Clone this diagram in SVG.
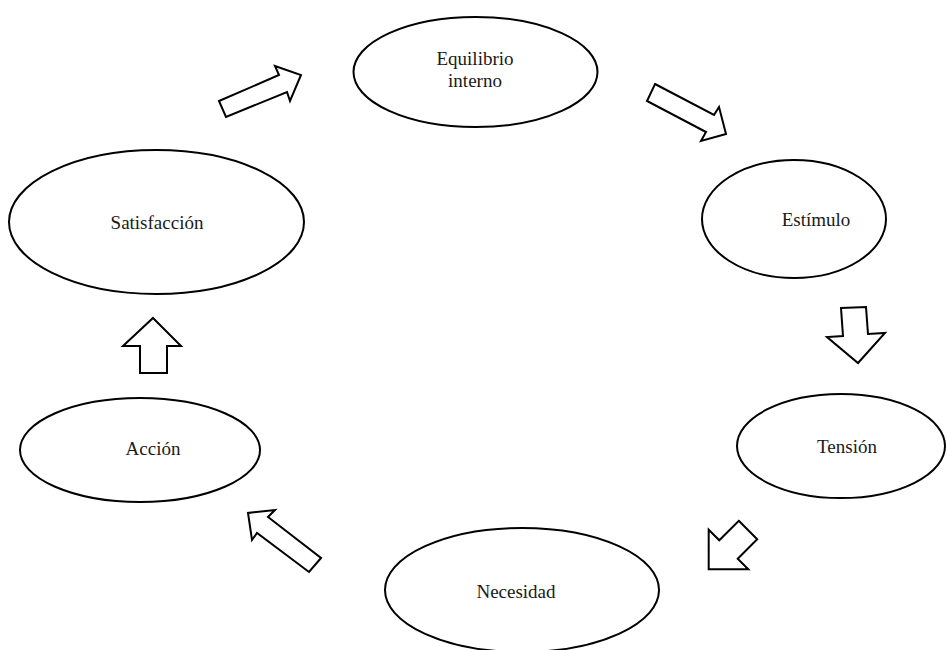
<svg xmlns="http://www.w3.org/2000/svg" width="947" height="650" viewBox="0 0 947 650">
<style>
.n{fill:#fff;stroke:#000;stroke-width:2}
.a{fill:#fff;stroke:#000;stroke-width:2;stroke-linejoin:miter}
text{font-family:"Liberation Serif","Times New Roman",serif;font-size:19px;fill:#1a1a1a;text-anchor:middle}
</style>
<rect width="947" height="650" fill="#fff"/>
<g id="connectors">
<polygon class="a" points="219,101 279,75 275,66 301,75 290,101 287,92 226,117"/>
<polygon class="a" points="655,84 714,115 719,107 726,134 701,141 706,132 647,101"/>
<polygon class="a" points="841,308 866,307 868,334 885,333 858,363 827,337 843,336"/>
<polygon class="a" points="738.8,520.8 757.2,539.2 737.7,558.7 748.3,569.3 708.7,569.3 708.7,529.7 719.3,540.3"/>
<polygon class="a" points="321,558 309,572 257,533 252,540 248,513 275,510 268,517"/>
<polygon class="a" points="153,318 181,346 167,346 167,373 140,373 140,346 123,346"/>
</g>
<g id="equilibrio">
<ellipse class="n" cx="475.5" cy="72" rx="122" ry="55"/>
<text x="475" y="65">Equilibrio</text>
<text x="475" y="87">interno</text>
</g>
<g id="estimulo">
<ellipse class="n" cx="794" cy="219" rx="92" ry="59"/>
<text x="816" y="226">Estímulo</text>
</g>
<g id="tension">
<ellipse class="n" cx="841" cy="446" rx="104" ry="52"/>
<text x="847" y="453">Tensión</text>
</g>
<g id="necesidad">
<ellipse class="n" cx="522" cy="590" rx="137" ry="62"/>
<text x="516" y="598">Necesidad</text>
</g>
<g id="accion">
<ellipse class="n" cx="140" cy="450" rx="120" ry="52"/>
<text x="153" y="455">Acción</text>
</g>
<g id="satisfaccion">
<ellipse class="n" cx="156.5" cy="222" rx="147.5" ry="72"/>
<text x="157" y="229">Satisfacción</text>
</g>
</svg>
